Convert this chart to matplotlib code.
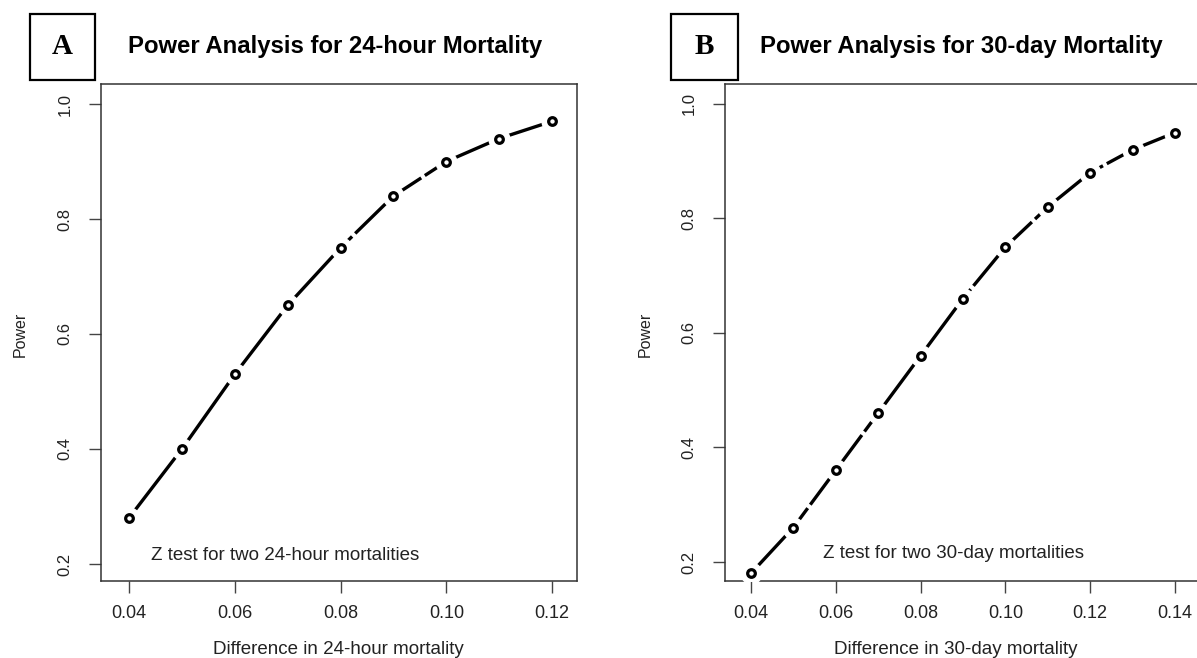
import matplotlib
matplotlib.use("Agg")
import matplotlib.pyplot as plt
from matplotlib.patches import Rectangle

plt.rcParams['font.family'] = ['Liberation Sans', 'DejaVu Sans']

# Дані: різниця смертності та потужність тесту
diff_24h = [0.04, 0.05, 0.06, 0.07, 0.08, 0.09, 0.10, 0.11, 0.12]
power_24h = [0.28, 0.40, 0.53, 0.65, 0.75, 0.84, 0.90, 0.94, 0.97]

diff_30d = [0.04, 0.05, 0.06, 0.07, 0.08, 0.09, 0.10, 0.11, 0.12, 0.13, 0.14]
power_30d = [0.18, 0.26, 0.36, 0.46, 0.56, 0.66, 0.75, 0.82, 0.88, 0.92, 0.95]

xticks_24h = [0.04, 0.06, 0.08, 0.10, 0.12]
xticks_30d = [0.04, 0.06, 0.08, 0.10, 0.12, 0.14]
yticks = [0.2, 0.4, 0.6, 0.8, 1.0]

panels = [
    dict(letter="A", title="Power Analysis for 24-hour Mortality",
         x=diff_24h, y=power_24h, xticks=xticks_24h,
         xlabel="Difference in 24-hour mortality",
         note="Z test for two 24-hour mortalities",
         box=(101, 577), xlim=(0.0347, 0.1247), ylim=(0.1704, 1.0348),
         letter_box=(30, 95), title_x=128, note_x=0.0441,
         ylab_x=20, xlab_x=338),
    dict(letter="B", title="Power Analysis for 30-day Mortality",
         x=diff_30d, y=power_30d, xticks=xticks_30d,
         xlabel="Difference in 30-day mortality",
         note="Z test for two 30-day mortalities",
         box=(725, 1200), xlim=(0.0339, 0.1459), ylim=(0.1668, 1.0349),
         letter_box=(671, 738), title_x=760, note_x=0.0571,
         ylab_x=645, xlab_x=956),
]

W, H = 1197, 658
fig = plt.figure(figsize=(W / 100, H / 100), dpi=100)
top, bottom = 84, 581

for p in panels:
    l, r = p["box"]
    ax = fig.add_axes([l / W, 1 - bottom / H, (r - l) / W, (bottom - top) / H])
    # лінія з розривами біля точок (як type="b" у R)
    ax.plot(p["x"], p["y"], color="black", lw=2.4, dashes=(26, 1.3), zorder=2)
    ax.plot(p["x"], p["y"], ls="none", marker="o", ms=15, mfc="white",
            mec="white", zorder=3)
    ax.plot(p["x"], p["y"], ls="none", marker="o", ms=5.5, mfc="white",
            mec="black", mew=2.3, zorder=4)
    ax.set_xlim(*p["xlim"])
    ax.set_ylim(*p["ylim"])
    ax.set_xticks(p["xticks"])
    ax.set_xticklabels([f"{v:.2f}" for v in p["xticks"]], fontsize=13, color="#222")
    ax.set_yticks(yticks)
    ax.set_yticklabels([f"{v:.1f}" for v in yticks], fontsize=12, color="#222",
                       rotation=90, va="center")
    ax.tick_params(axis="both", direction="out", length=8.5, width=1.0,
                   color="#444")
    ax.tick_params(axis="x", pad=9)
    ax.tick_params(axis="y", pad=12)
    for s in ax.spines.values():
        s.set_color("#333")
        s.set_linewidth(1.1)
    ax.text(p["note_x"], 0.215, p["note"], fontsize=13.5, color="#222",
            va="center", ha="left")

    fig.text(p["xlab_x"] / W, 1 - 650 / H, p["xlabel"], fontsize=13.5,
             color="#222", ha="center", va="center")
    fig.text(p["ylab_x"] / W, 1 - 334 / H, "Power", fontsize=11.5, color="#222",
             rotation=90, ha="center", va="center")
    fig.text(p["title_x"] / W, 1 - 47 / H, p["title"], fontsize=17.2,
             fontweight="bold", ha="left", va="center")

    bl, br = p["letter_box"]
    fig.patches.append(Rectangle((bl / W, 1 - 80 / H), (br - bl) / W, 66 / H,
                                 transform=fig.transFigure, fill=False,
                                 edgecolor="black", lw=1.6))
    fig.text((bl + br) / 2 / W, 1 - 47 / H, p["letter"], fontsize=21,
             fontweight="bold", family="Liberation Serif", ha="center",
             va="center")

fig.savefig("out.png", dpi=100)
